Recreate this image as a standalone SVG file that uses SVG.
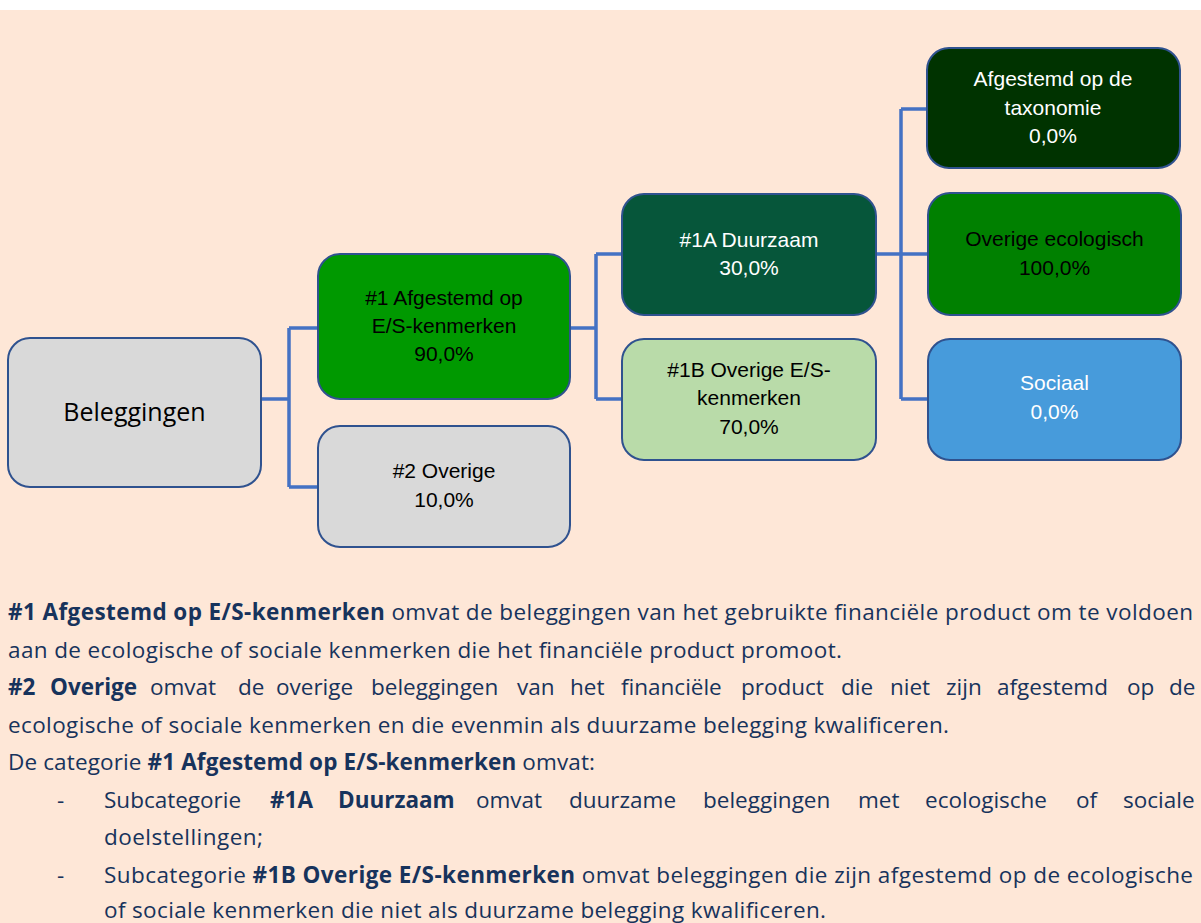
<svg xmlns="http://www.w3.org/2000/svg" width="1201" height="923" viewBox="0 0 1201 923">
<style>
.box{stroke:#2F528F;stroke-width:2}
.lbl{font-family:"Liberation Sans",Arial,sans-serif;font-size:21px;text-anchor:middle}
.dk{fill:#000}
.wt{fill:#fff}
.conn{fill:none;stroke:#4472C4;stroke-width:3.5}
.body{font-family:"Open Sans","Noto Sans",sans-serif;font-size:22.5px;fill:#17335C}
.b{font-weight:bold}
</style>
<rect x="0" y="0" width="1201" height="923" fill="#fff"/>
<rect x="0" y="10" width="1201" height="913" fill="#FEE7D7"/>
<g id="connectors">
<path class="conn" d="M261 399 H289 M289 328 V487 M289 328 H318 M289 487 H318"/>
<path class="conn" d="M570 328 H596 M596 254 V399 M596 254 H622 M596 399 H622"/>
<path class="conn" d="M876 254 H927 M901 109 V399 M901 109 H927 M901 399 H928"/>
</g>
<g id="n-beleggingen">
<rect class="box" x="8" y="338" width="253" height="149" rx="22" fill="#D9D9D9"/>
<text x="134.5" y="421" font-family="'Open Sans','Noto Sans',sans-serif" font-size="25" fill="#000" text-anchor="middle">Beleggingen</text>
</g>
<g id="n-1">
<rect class="box" x="318" y="254" width="252" height="145" rx="22" fill="#009900"/>
<text class="lbl dk"><tspan x="444" y="305">#1 Afgestemd op</tspan><tspan x="444" y="333">E/S-kenmerken</tspan><tspan x="444" y="361">90,0%</tspan></text>
</g>
<g id="n-2">
<rect class="box" x="318" y="426" width="252" height="121" rx="22" fill="#D9D9D9"/>
<text class="lbl dk"><tspan x="444" y="478">#2 Overige</tspan><tspan x="444" y="507">10,0%</tspan></text>
</g>
<g id="n-1a">
<rect class="box" x="622" y="194" width="254" height="121" rx="22" fill="#06563A"/>
<text class="lbl wt"><tspan x="749" y="247">#1A Duurzaam</tspan><tspan x="749" y="275">30,0%</tspan></text>
</g>
<g id="n-1b">
<rect class="box" x="622" y="339" width="254" height="121" rx="22" fill="#B9DBA9"/>
<text class="lbl dk"><tspan x="749" y="377">#1B Overige E/S-</tspan><tspan x="749" y="405">kenmerken</tspan><tspan x="749" y="434">70,0%</tspan></text>
</g>
<g id="n-tax">
<rect class="box" x="927" y="48" width="253" height="120" rx="22" fill="#003300"/>
<text class="lbl wt"><tspan x="1053" y="86">Afgestemd op de</tspan><tspan x="1053" y="115">taxonomie</tspan><tspan x="1053" y="143">0,0%</tspan></text>
</g>
<g id="n-eco">
<rect class="box" x="928" y="193" width="253" height="122" rx="22" fill="#008000"/>
<text class="lbl dk"><tspan x="1054.5" y="246">Overige ecologisch</tspan><tspan x="1054.5" y="275">100,0%</tspan></text>
</g>
<g id="n-soc">
<rect class="box" x="928" y="339" width="253" height="121" rx="22" fill="#479BDB"/>
<text class="lbl wt"><tspan x="1054.5" y="390">Sociaal</tspan><tspan x="1054.5" y="419">0,0%</tspan></text>
</g>
<g id="legend" class="body">
<text x="8" y="620" textLength="1185" lengthAdjust="spacing"><tspan class="b">#1 Afgestemd op E/S-kenmerken</tspan> omvat de beleggingen van het gebruikte financiële product om te voldoen</text>
<text x="8" y="658" textLength="834" lengthAdjust="spacing">aan de ecologische of sociale kenmerken die het financiële product promoot.</text>
<text y="695"><tspan class="b" x="8">#2</tspan><tspan class="b" x="50">Overige</tspan><tspan x="150">omvat</tspan><tspan x="238">de</tspan><tspan x="276">overige</tspan><tspan x="371">beleggingen</tspan><tspan x="517">van</tspan><tspan x="570">het</tspan><tspan x="621">financiële</tspan><tspan x="741">product</tspan><tspan x="841">die</tspan><tspan x="890">niet</tspan><tspan x="946">zijn</tspan><tspan x="997">afgestemd</tspan><tspan x="1127">op</tspan><tspan x="1169">de</tspan></text>
<text x="8" y="733" textLength="941" lengthAdjust="spacing">ecologische of sociale kenmerken en die evenmin als duurzame belegging kwalificeren.</text>
<text x="8" y="770" textLength="587" lengthAdjust="spacing">De categorie <tspan class="b">#1 Afgestemd op E/S-kenmerken</tspan> omvat:</text>
<text x="57" y="808">-</text>
<text y="808"><tspan x="104">Subcategorie</tspan><tspan class="b" x="270">#1A</tspan><tspan class="b" x="338">Duurzaam</tspan><tspan x="476">omvat</tspan><tspan x="569">duurzame</tspan><tspan x="703">beleggingen</tspan><tspan x="858">met</tspan><tspan x="925">ecologische</tspan><tspan x="1076">of</tspan><tspan x="1123">sociale</tspan></text>
<text x="104" y="845" textLength="159" lengthAdjust="spacing">doelstellingen;</text>
<text x="57" y="883">-</text>
<text x="104" y="883" textLength="1089" lengthAdjust="spacing">Subcategorie <tspan class="b">#1B Overige E/S-kenmerken</tspan> omvat beleggingen die zijn afgestemd op de ecologische</text>
<text x="104" y="918" textLength="722" lengthAdjust="spacing">of sociale kenmerken die niet als duurzame belegging kwalificeren.</text>
</g>
</svg>
